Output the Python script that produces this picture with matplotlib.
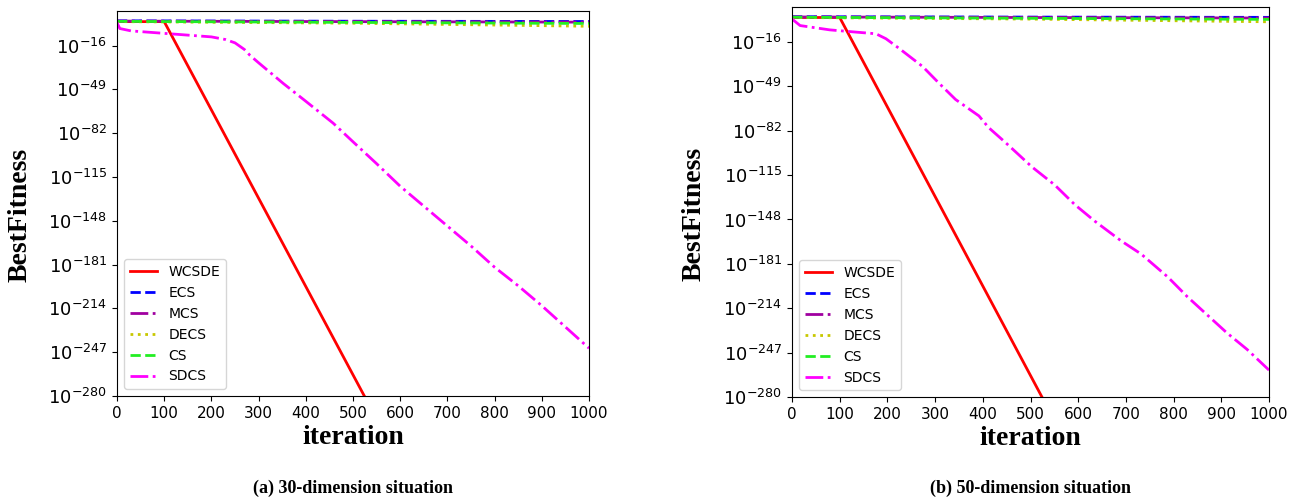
import matplotlib.pyplot as plt
from matplotlib.ticker import NullLocator
import numpy as np

# iteration points and best fitness exponents (log10)
# (a) 30-dimension
a_wcsde_x = [0, 100, 530]
a_wcsde_e = [2.0, 2.0, -284]
a_ecs_x = [0, 500, 1000]
a_ecs_e = [2.6, 2.3, 2.1]
a_mcs_x = [0, 500, 1000]
a_mcs_e = [2.4, 2.0, 1.6]
a_decs_x = [0, 500, 1000]
a_decs_e = [2.0, 0.8, -1.5]
a_cs_x = [0, 500, 1000]
a_cs_e = [2.2, 1.4, 0.6]
a_sdcs_x = [0, 6, 30, 106, 200, 230, 250, 270, 282, 300, 352, 400, 458, 500,
            550, 600, 650, 700, 750, 800, 850, 900, 950, 1000]
a_sdcs_e = [1.2, -3.2, -5.0, -7.0, -9.5, -11.5, -14, -19, -23.5, -29, -44.5, -58, -74.5, -88.5,
            -105, -122, -137, -152, -167, -183, -197, -212, -228, -244]

# (b) 50-dimension
b_wcsde_x = [0, 100, 530]
b_wcsde_e = [2.2, 2.2, -284]
b_ecs_x = [0, 500, 1000]
b_ecs_e = [2.8, 2.5, 2.3]
b_mcs_x = [0, 500, 1000]
b_mcs_e = [2.6, 2.2, 1.8]
b_decs_x = [0, 500, 1000]
b_decs_e = [2.2, 1.0, -1.0]
b_cs_x = [0, 500, 1000]
b_cs_e = [2.4, 1.6, 0.8]
b_sdcs_x = [0, 17, 79, 135, 176, 197, 225, 274, 308, 343, 392, 412, 447, 503, 551, 593,
            635, 690, 732, 788, 829, 878, 912, 954, 1000]
b_sdcs_e = [1.1, -3.8, -7.0, -8.7, -9.9, -13.6, -20.9, -34.3, -46.6, -58.8, -71, -79.6, -90.6,
            -108.9, -122.4, -137, -149.3, -163.9, -173.7, -190.8, -205.5, -221.4, -232.4, -244.6, -260]

yticks_exp = [-16, -49, -82, -115, -148, -181, -214, -247, -280]
captions = ["(a) 30-dimension situation", "(b) 50-dimension situation"]

panels = [
    dict(wcsde=(a_wcsde_x, a_wcsde_e), ecs=(a_ecs_x, a_ecs_e), mcs=(a_mcs_x, a_mcs_e),
         decs=(a_decs_x, a_decs_e), cs=(a_cs_x, a_cs_e), sdcs=(a_sdcs_x, a_sdcs_e)),
    dict(wcsde=(b_wcsde_x, b_wcsde_e), ecs=(b_ecs_x, b_ecs_e), mcs=(b_mcs_x, b_mcs_e),
         decs=(b_decs_x, b_decs_e), cs=(b_cs_x, b_cs_e), sdcs=(b_sdcs_x, b_sdcs_e)),
]

styles = [
    ("wcsde", "WCSDE", "red", "-"),
    ("ecs", "ECS", "blue", "--"),
    ("mcs", "MCS", "#a000a0", "-."),
    ("decs", "DECS", "#c8c800", ":"),
    ("cs", "CS", "#22ee22", "--"),
    ("sdcs", "SDCS", "magenta", "-."),
]

fig = plt.figure(figsize=(13.02, 5.0), dpi=100)
rects = [[117 / 1302, 1 - 396 / 500, 472 / 1302, 385 / 500],
         [792 / 1302, 1 - 397 / 500, 477 / 1302, 390 / 500]]

for k, (rect, data) in enumerate(zip(rects, panels)):
    ax = fig.add_axes(rect)
    for key, name, color, ls in styles:
        xs, es = data[key]
        ax.plot(xs, 10.0 ** np.array(es, dtype=float), color=color, linestyle=ls,
                linewidth=2, label=name)
    ax.set_yscale("log")
    ax.set_ylim(1e-280, 1e10)
    ax.set_xlim(0, 1000)
    ax.set_yticks([10.0 ** e for e in yticks_exp])
    ax.yaxis.set_minor_locator(NullLocator())
    ax.set_xticks(np.arange(0, 1001, 100))
    ax.tick_params(axis="x", labelsize=11)
    ax.tick_params(axis="y", labelsize=13)
    ax.set_xlabel("iteration", fontfamily="Liberation Serif", fontweight="bold", fontsize=20)
    ax.xaxis.label.set_va("center")
    ax.xaxis.set_label_coords(0.5, -0.107)
    ax.set_ylabel("BestFitness", fontfamily="Liberation Serif", fontweight="bold", fontsize=20)
    ax.yaxis.label.set_va("center")
    ax.yaxis.set_label_coords(-0.205, 0.47)
    ax.legend(loc="lower left", fontsize=10)
    cx = rect[0] + rect[2] / 2
    fig.text(cx, 1 - 488 / 500, captions[k], ha="center", va="center",
             fontfamily="Liberation Serif", fontweight="bold", fontsize=13)

fig.savefig("out.png", dpi=100)
